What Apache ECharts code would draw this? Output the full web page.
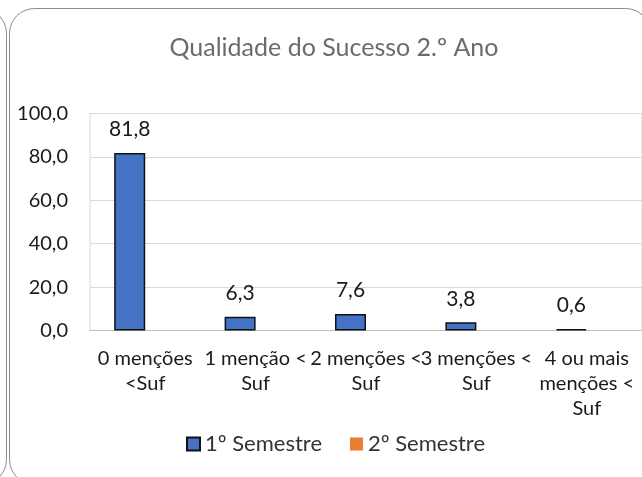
<!DOCTYPE html>
<html>
<head>
<meta charset="utf-8">
<script src="https://cdn.jsdelivr.net/npm/echarts@6/dist/echarts.min.js"></script>
<style>
  html, body { margin: 0; padding: 0; background: #fff; }
  #chart { width: 642px; height: 477px; }
</style>
</head>
<body>
<div id="chart"></div>
<script>
// categorias (quebradas como no Excel)
const categories = [
  "0 menções\n<Suf",
  "1 menção <\nSuf",
  "2 menções <\nSuf",
  "3 menções <\nSuf",
  "4 ou mais\nmenções <\nSuf"
];
const semestre1 = [81.8, 6.3, 7.6, 3.8, 0.6];
const semestre2 = [null, null, null, null, null]; // sem valores
const seriesNames = ["1º Semestre", "2º Semestre"];
const yTicks = [0, 20, 40, 60, 80, 100];

const FONT = "Lato";
const TXT = "#1a1a1a";
const fmt = v => v.toFixed(1).replace(".", ",");

const chart = echarts.init(document.getElementById("chart"));
const option = {
  backgroundColor: "#fff",
  animation: false,
  textStyle: { fontFamily: FONT },
  title: {
    text: "Qualidade do Sucesso 2.º Ano",
    left: 329,
    textAlign: "center",
    top: 30,
    textStyle: { color: "#6b6b6b", fontSize: 25, fontWeight: "normal", fontFamily: FONT }
  },
  graphic: [
    // moldura do gráfico
    {
      type: "rect",
      shape: { x: 9.5, y: 8.5, width: 641, height: 476, r: 25 },
      style: { fill: "none", stroke: "#8c8c8c", lineWidth: 1 },
      z: -1
    },
    // borda do gráfico vizinho à esquerda
    {
      type: "rect",
      shape: { x: -600, y: 8.5, width: 606.5, height: 476, r: 25 },
      style: { fill: "none", stroke: "#8c8c8c", lineWidth: 1 },
      z: -1
    }
  ],
  grid: {
    left: 90,
    top: 113.5,
    bottom: 146.5,
    right: -3,
    show: true,
    borderColor: "#d9d9d9",
    borderWidth: 1
  },
  legend: {
    left: 186,
    top: 433,
    padding: 0,
    itemWidth: 13,
    itemHeight: 13,
    itemGap: 28,
    icon: "rect",
    textStyle: { fontSize: 22, color: "#333", fontFamily: FONT },
    data: seriesNames
  },
  xAxis: {
    type: "category",
    data: categories,
    axisTick: { show: false },
    axisLine: { lineStyle: { color: "#bfbfbf", width: 1 } },
    axisLabel: {
      interval: 0,
      margin: 16,
      color: TXT,
      fontSize: 20,
      lineHeight: 25,
      fontFamily: FONT
    }
  },
  yAxis: {
    type: "value",
    min: yTicks[0],
    max: yTicks[yTicks.length - 1],
    interval: 20,
    axisLine: { show: false },
    axisTick: { show: false },
    splitLine: { lineStyle: { color: "#d9d9d9", width: 1 } },
    axisLabel: {
      margin: 22,
      color: TXT,
      fontSize: 20,
      fontFamily: FONT,
      formatter: v => fmt(v)
    }
  },
  series: [
    {
      name: seriesNames[0],
      type: "bar",
      data: semestre1,
      barWidth: 31,
      barGap: "0%",
      itemStyle: { color: "#4472c4", borderColor: "#111", borderWidth: 1.5 },
      label: {
        show: true,
        position: "top",
        distance: 13,
        color: TXT,
        fontSize: 21,
        fontFamily: FONT,
        formatter: p => fmt(p.value)
      }
    },
    {
      name: seriesNames[1],
      type: "bar",
      data: semestre2,
      barWidth: 31,
      itemStyle: { color: "#ed7d31" }
    }
  ]
};
chart.setOption(option);
</script>
</body>
</html>
